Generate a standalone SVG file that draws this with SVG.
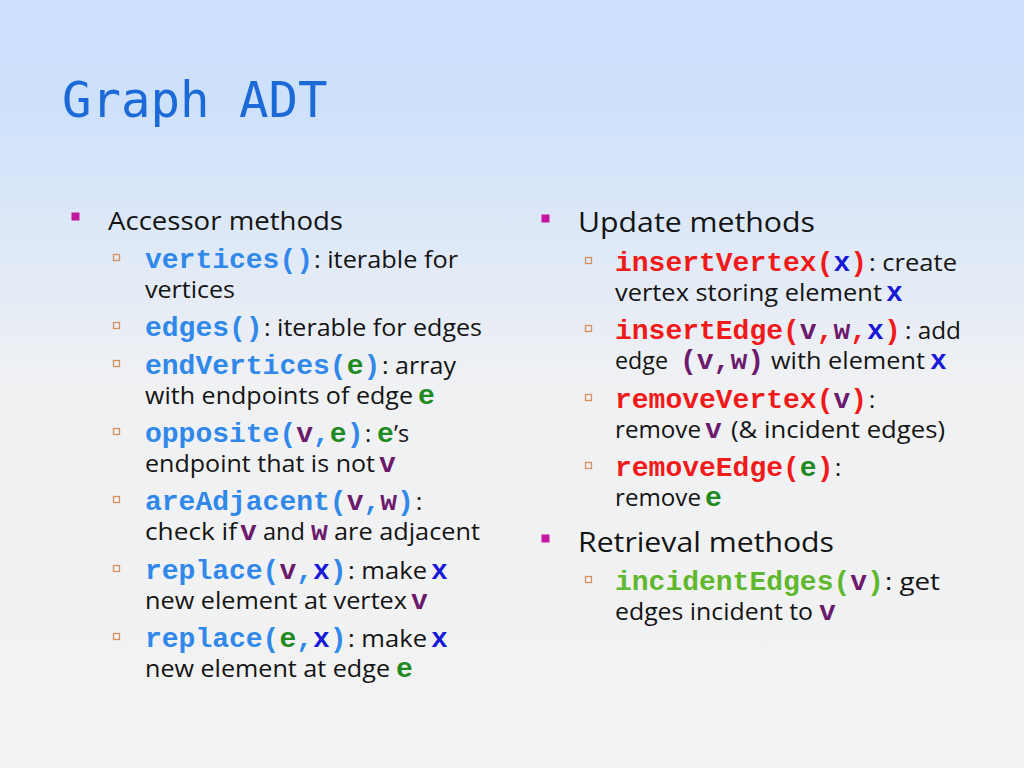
<svg xmlns="http://www.w3.org/2000/svg" width="1024" height="768" viewBox="0 0 1024 768">
<defs>
<linearGradient id="bg" x1="0" y1="0" x2="0" y2="1">
<stop offset="0" stop-color="#cce0fc"/>
<stop offset="0.14" stop-color="#cee1fb"/>
<stop offset="0.5" stop-color="#f0f1f3"/>
<stop offset="1" stop-color="#f2f2f2"/>
</linearGradient>
</defs>
<style>
.title{font-family:"DejaVu Sans Mono",monospace;font-size:49px;fill:#1c6ad8}
.h{font-family:"Open Sans",Lato,sans-serif;font-size:26px;fill:#141414}
.t{font-family:"Open Sans",Lato,sans-serif;font-size:23.5px;fill:#141414}
.c{font-family:"Liberation Mono","Courier New",monospace;font-size:28px;font-weight:bold}
.acc{fill:#2f88ea}
.upd{fill:#f01a1a}
.ret{fill:#5fb82e}
.pv{fill:#6c1a6c}
.pe{fill:#1f8a1f}
.px{fill:#1818d8}
.b1{fill:#c4169e}
.b2{fill:none;stroke:#d4905e;stroke-width:1.3}
</style>
<rect x="0" y="0" width="1024" height="768" fill="url(#bg)"/>
<text class="title" x="62" y="117">Graph ADT</text>

<g id="accessor">
<rect class="b1" x="71.5" y="212.5" width="8" height="8"/>
<text class="h" x="108" y="230" textLength="235" lengthAdjust="spacingAndGlyphs">Accessor methods</text>
</g>
<g id="vertices">
<rect class="b2" x="113.5" y="254.5" width="6" height="6"/>
<text x="145" y="268"><tspan class="c acc">vertices()</tspan><tspan class="t" x="314" textLength="144" lengthAdjust="spacingAndGlyphs">: iterable for</tspan></text>
<text class="t" x="145" y="298" textLength="90" lengthAdjust="spacingAndGlyphs">vertices</text>
</g>
<g id="edges">
<rect class="b2" x="113.5" y="322.5" width="6" height="6"/>
<text x="145" y="336"><tspan class="c acc">edges()</tspan><tspan class="t" x="264" textLength="218" lengthAdjust="spacingAndGlyphs">: iterable for edges</tspan></text>
</g>
<g id="endVertices">
<rect class="b2" x="113.5" y="360.5" width="6" height="6"/>
<text x="145" y="374"><tspan class="c acc">endVertices(<tspan class="pe">e</tspan>)</tspan><tspan class="t" x="382" textLength="74" lengthAdjust="spacingAndGlyphs">: array</tspan></text>
<text x="145" y="404"><tspan class="t" textLength="268" lengthAdjust="spacingAndGlyphs">with endpoints of edge</tspan><tspan class="c pe" x="418">e</tspan></text>
</g>
<g id="opposite">
<rect class="b2" x="113.5" y="428.5" width="6" height="6"/>
<text x="145" y="442"><tspan class="c acc">opposite(<tspan class="pv">v</tspan>,<tspan class="pe">e</tspan>)</tspan><tspan class="t" x="365">:</tspan><tspan class="c pe" x="377">e</tspan><tspan class="t" x="394">’s</tspan></text>
<text x="145" y="472"><tspan class="t" textLength="230" lengthAdjust="spacingAndGlyphs">endpoint that is not</tspan><tspan class="c pv" x="379">v</tspan></text>
</g>
<g id="areAdjacent">
<rect class="b2" x="113.5" y="496.5" width="6" height="6"/>
<text x="145" y="510"><tspan class="c acc">areAdjacent(<tspan class="pv">v</tspan>,<tspan class="pv">w</tspan>)</tspan><tspan class="t" x="416">:</tspan></text>
<text x="145" y="540"><tspan class="t" textLength="92" lengthAdjust="spacingAndGlyphs">check if</tspan><tspan class="c pv" x="240">v</tspan><tspan class="t" x="263" textLength="42" lengthAdjust="spacingAndGlyphs">and</tspan><tspan class="c pv" x="311">w</tspan><tspan class="t" x="334" textLength="146" lengthAdjust="spacingAndGlyphs">are adjacent</tspan></text>
</g>
<g id="replaceV">
<rect class="b2" x="113.5" y="565.5" width="6" height="6"/>
<text x="145" y="579"><tspan class="c acc">replace(<tspan class="pv">v</tspan>,<tspan class="px">x</tspan>)</tspan><tspan class="t" x="348" textLength="79" lengthAdjust="spacingAndGlyphs">: make</tspan><tspan class="c px" x="431">x</tspan></text>
<text x="145" y="609"><tspan class="t" textLength="262" lengthAdjust="spacingAndGlyphs">new element at vertex</tspan><tspan class="c pv" x="411">v</tspan></text>
</g>
<g id="replaceE">
<rect class="b2" x="113.5" y="633.5" width="6" height="6"/>
<text x="145" y="647"><tspan class="c acc">replace(<tspan class="pe">e</tspan>,<tspan class="px">x</tspan>)</tspan><tspan class="t" x="348" textLength="79" lengthAdjust="spacingAndGlyphs">: make</tspan><tspan class="c px" x="431">x</tspan></text>
<text x="145" y="677"><tspan class="t" textLength="245" lengthAdjust="spacingAndGlyphs">new element at edge</tspan><tspan class="c pe" x="396">e</tspan></text>
</g>

<g id="update">
<rect class="b1" x="541.5" y="214.5" width="8" height="8"/>
<text class="h" x="578" y="232" style="font-size:27px" textLength="237" lengthAdjust="spacingAndGlyphs">Update methods</text>
</g>
<g id="insertVertex">
<rect class="b2" x="585.5" y="257.5" width="6" height="6"/>
<text x="615" y="271"><tspan class="c upd">insertVertex(<tspan class="px">x</tspan>)</tspan><tspan class="t" x="869" textLength="88" lengthAdjust="spacingAndGlyphs">: create</tspan></text>
<text x="615" y="301"><tspan class="t" textLength="267" lengthAdjust="spacingAndGlyphs">vertex storing element</tspan><tspan class="c px" x="886">x</tspan></text>
</g>
<g id="insertEdge">
<rect class="b2" x="585.5" y="325.5" width="6" height="6"/>
<text x="615" y="339"><tspan class="c upd">insertEdge(<tspan class="pv">v</tspan>,<tspan class="pv">w</tspan>,<tspan class="px">x</tspan>)</tspan><tspan class="t" x="905" textLength="56" lengthAdjust="spacingAndGlyphs">: add</tspan></text>
<text x="615" y="369"><tspan class="t" textLength="53" lengthAdjust="spacingAndGlyphs">edge</tspan><tspan class="c pv" x="680">(v,w)</tspan><tspan class="t" x="771" textLength="154" lengthAdjust="spacingAndGlyphs">with element</tspan><tspan class="c px" x="930">x</tspan></text>
</g>
<g id="removeVertex">
<rect class="b2" x="585.5" y="394.5" width="6" height="6"/>
<text x="615" y="408"><tspan class="c upd">removeVertex(<tspan class="pv">v</tspan>)</tspan><tspan class="t" x="869">:</tspan></text>
<text x="615" y="438"><tspan class="t" textLength="86" lengthAdjust="spacingAndGlyphs">remove</tspan><tspan class="c pv" x="705">v</tspan><tspan class="t" x="731" textLength="214" lengthAdjust="spacingAndGlyphs">(&amp; incident edges)</tspan></text>
</g>
<g id="removeEdge">
<rect class="b2" x="585.5" y="462.5" width="6" height="6"/>
<text x="615" y="476"><tspan class="c upd">removeEdge(<tspan class="pe">e</tspan>)</tspan><tspan class="t" x="835">:</tspan></text>
<text x="615" y="506"><tspan class="t" textLength="86" lengthAdjust="spacingAndGlyphs">remove</tspan><tspan class="c pe" x="705">e</tspan></text>
</g>
<g id="retrieval">
<rect class="b1" x="541.5" y="534.5" width="8" height="8"/>
<text class="h" x="578" y="552" style="font-size:27px" textLength="256" lengthAdjust="spacingAndGlyphs">Retrieval methods</text>
</g>
<g id="incidentEdges">
<rect class="b2" x="585.5" y="576.5" width="6" height="6"/>
<text x="615" y="590"><tspan class="c ret">incidentEdges(<tspan class="pv">v</tspan>)</tspan><tspan class="t" x="885" textLength="55" lengthAdjust="spacingAndGlyphs">: get</tspan></text>
<text x="615" y="620"><tspan class="t" textLength="198" lengthAdjust="spacingAndGlyphs">edges incident to</tspan><tspan class="c pv" x="819">v</tspan></text>
</g>
</svg>
